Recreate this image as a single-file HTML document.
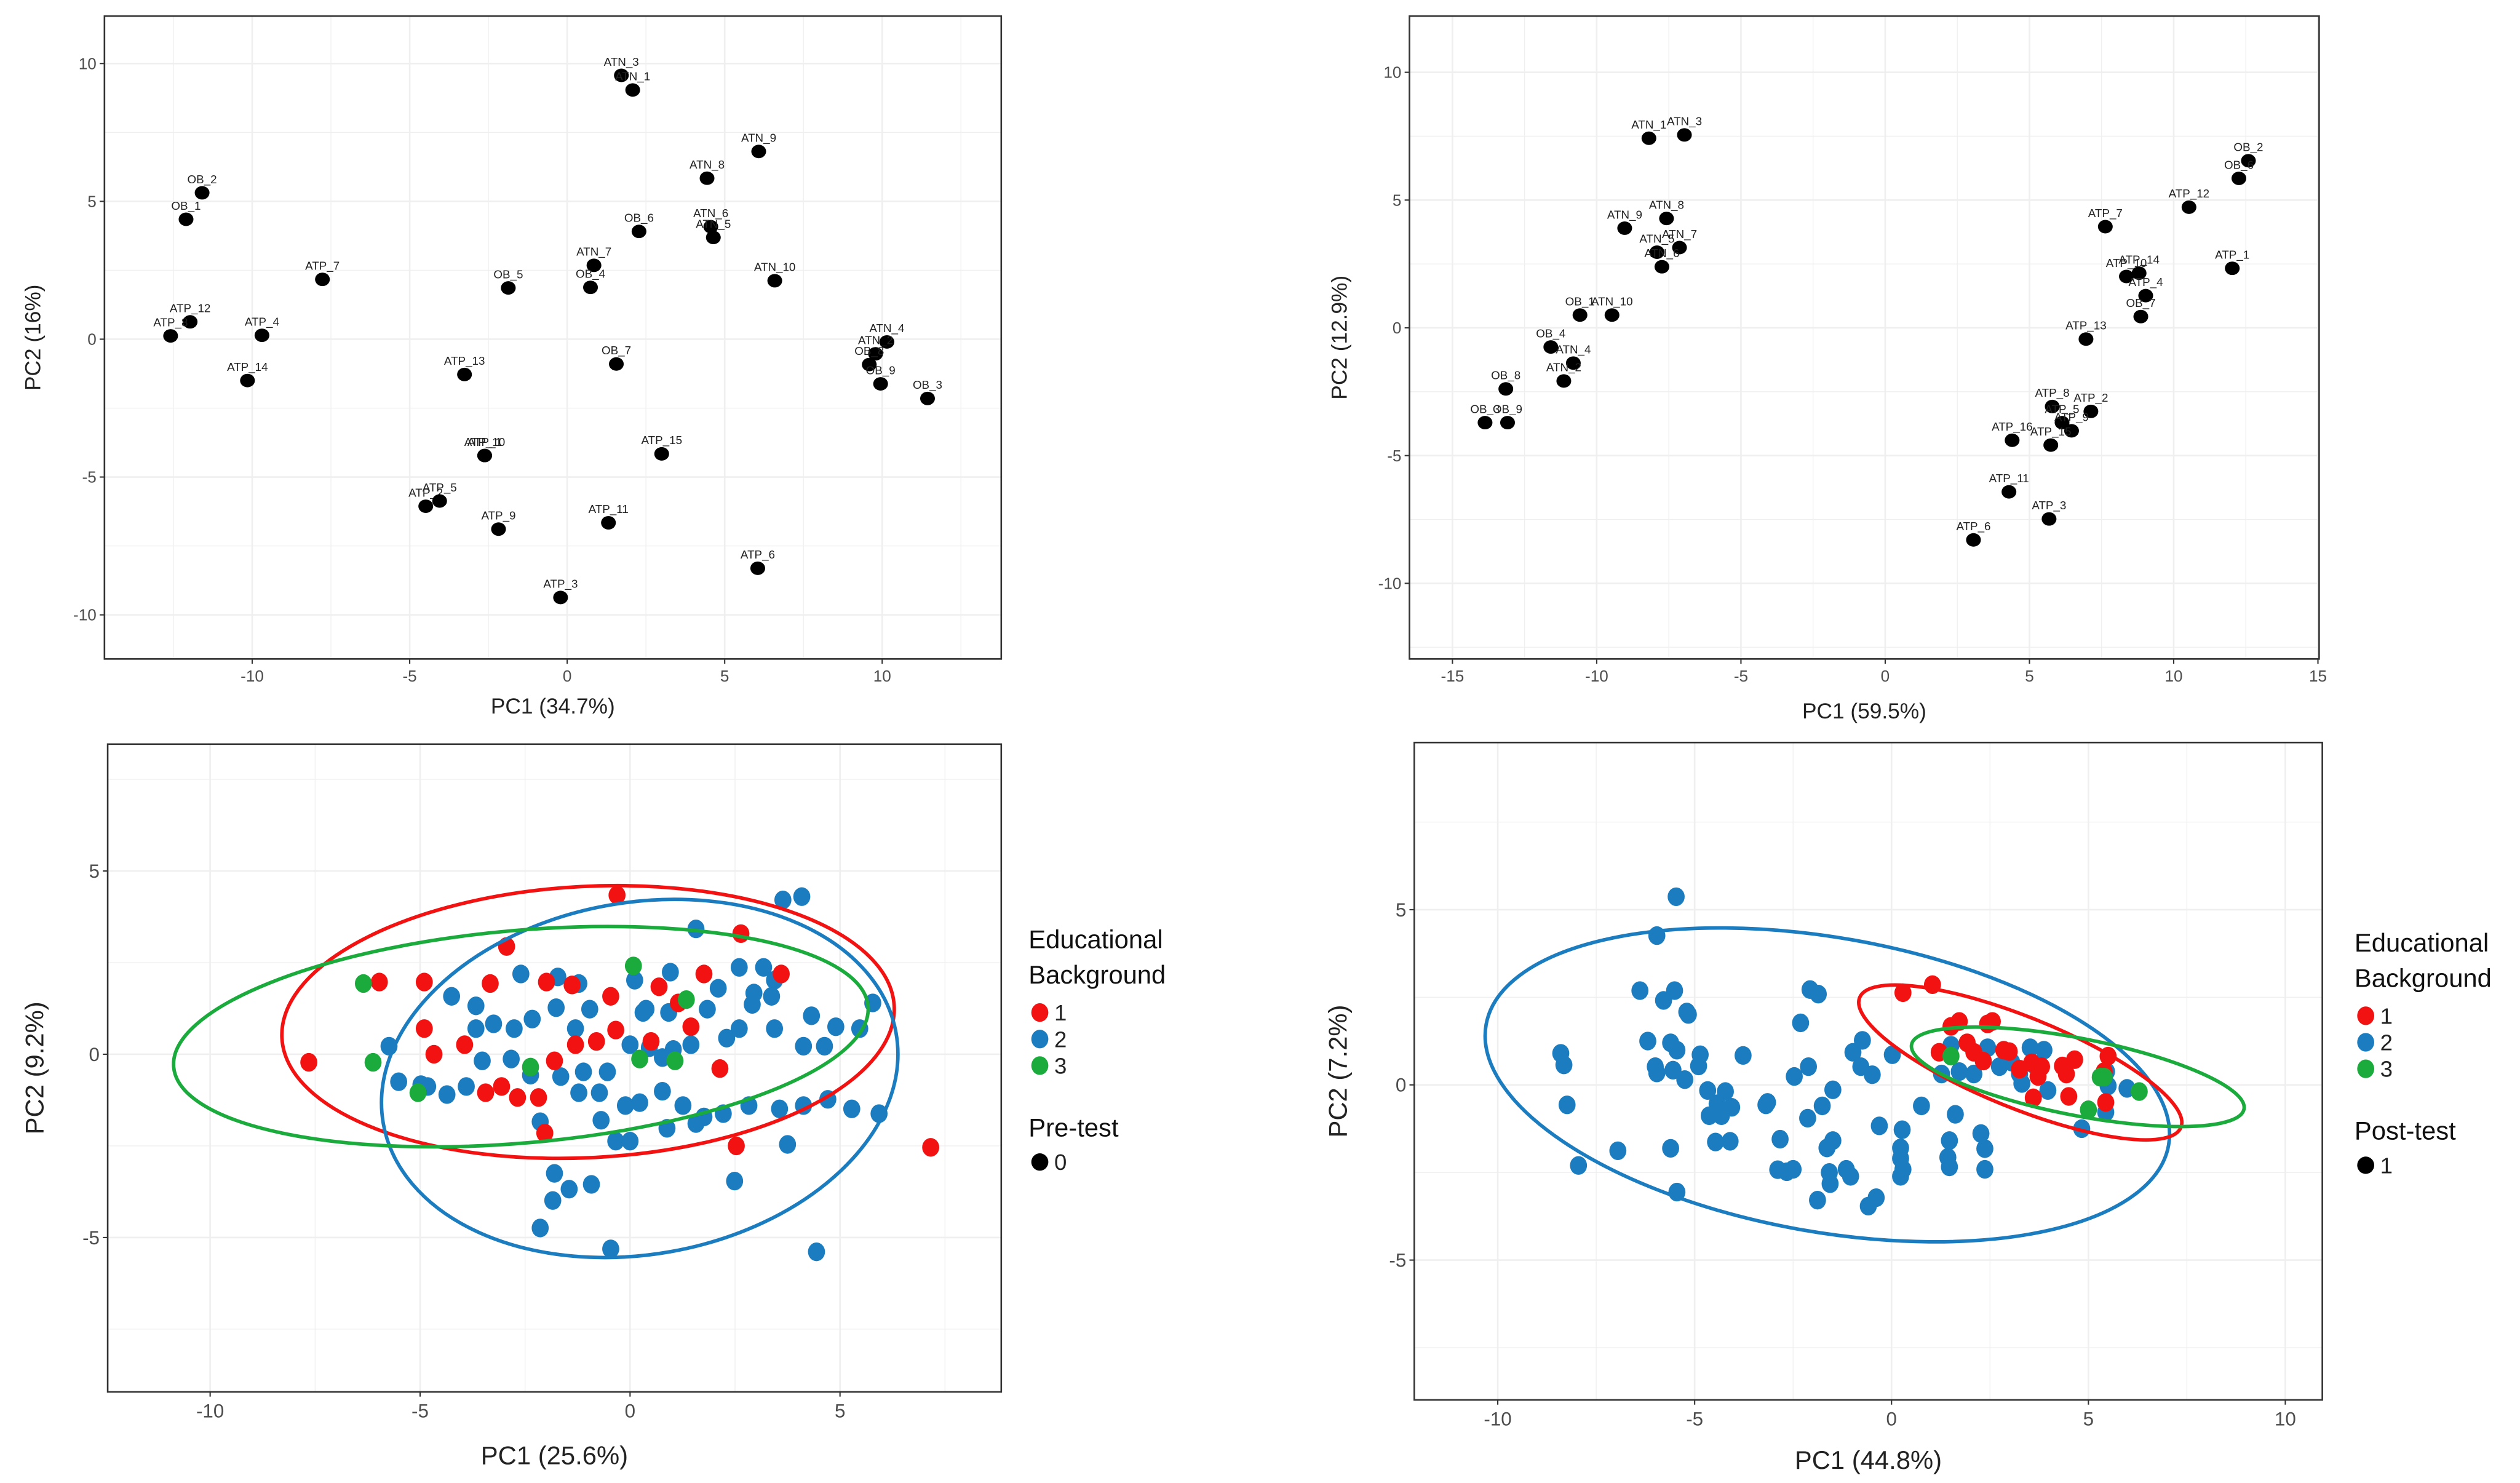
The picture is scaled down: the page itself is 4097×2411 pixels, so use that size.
<!DOCTYPE html>
<html><head><meta charset="utf-8"><style>
html,body{margin:0;padding:0;background:#fff;}
svg{display:block;font-family:"Liberation Sans",sans-serif;}
</style></head><body>
<svg id="fig" width="4097" height="2411" viewBox="0 0 1568 922.7" xmlns="http://www.w3.org/2000/svg"></svg>
<script>
// ---- Panel A (top-left) data ----
const aLabels=["ATN_3","ATN_1","ATN_9","ATN_8","OB_2","OB_1","OB_6","ATN_6","ATN_5","ATN_7","OB_4","OB_5","ATP_7","ATN_10","ATP_12","ATP_8","ATP_4","ATN_4","ATN_2","OB_8","OB_9","OB_3","ATP_14","ATP_13","OB_7","ATP_1","ATP_10","ATP_15","ATP_2","ATP_5","ATP_9","ATP_11","ATP_6","ATP_3"];
const aPC1=[1.72,2.08,6.08,4.44,-11.59,-12.1,2.28,4.56,4.64,0.85,0.74,-1.87,-7.77,6.59,-11.97,-12.59,-9.69,10.15,9.79,9.59,9.95,11.44,-10.15,-3.26,1.56,-2.62,-2.62,3.0,-4.49,-4.05,-2.18,1.31,6.05,-0.21];
const aPC2=[9.57,9.04,6.81,5.84,5.31,4.35,3.91,4.08,3.69,2.68,1.88,1.86,2.17,2.12,0.63,0.12,0.14,-0.1,-0.53,-0.92,-1.62,-2.15,-1.5,-1.28,-0.9,-4.22,-4.22,-4.16,-6.06,-5.87,-6.89,-6.66,-8.31,-9.37];
// ---- Panel B (top-right) data ----
const bLabels=["ATN_3","ATN_1","ATN_9","ATN_8","ATN_5","ATN_7","ATN_6","OB_1","ATN_10","OB_4","ATN_4","ATN_2","OB_8","OB_3","OB_9","OB_2","OB_6","ATP_12","ATP_7","ATP_1","ATP_14","ATP_10","ATP_4","OB_7","ATP_13","ATP_8","ATP_2","ATP_5","ATP_9","ATP_15","ATP_16","ATP_11","ATP_3","ATP_6"];
const bPC1=[-6.96,-8.19,-9.03,-7.58,-7.91,-7.13,-7.74,-10.58,-9.47,-11.59,-10.81,-11.14,-13.15,-13.87,-13.09,12.59,12.26,10.53,7.63,12.03,8.8,8.36,9.03,8.86,6.96,5.79,7.13,6.13,6.46,5.74,4.4,4.29,5.68,3.06];
const bPC2=[7.55,7.42,3.9,4.28,2.96,3.14,2.39,0.5,0.5,-0.75,-1.38,-2.08,-2.39,-3.71,-3.71,6.54,5.85,4.72,3.96,2.33,2.14,2.01,1.26,0.44,-0.44,-3.08,-3.27,-3.71,-4.03,-4.59,-4.4,-6.42,-7.48,-8.3];
// ---- Panel C (bottom-left, pre-test) ----
const cRedX=[-0.31,-2.94,2.64,3.6,-7.65,-4.67,-4.9,-3.33,-1.99,-1.38,-0.46,0.69,1.76,-3.94,-3.06,-2.68,-2.18,-1.8,-0.8,-0.34,-1.3,1.45,1.15,2.14,-2.03,2.53,7.16,-4.9,0.5,-5.97,-3.44];
const cRedY=[4.34,2.94,3.29,2.19,-0.22,0,1.97,1.93,1.97,1.89,1.58,1.84,2.19,0.26,-0.88,-1.18,-1.18,-0.18,0.35,0.66,0.26,0.75,1.4,-0.39,-2.15,-2.5,-2.54,0.7,0.35,1.97,-1.05];
const cBlueX=[3.64,4.09,5.78,1.57,2.6,3.18,3.44,2.1,2.95,2.91,3.37,4.32,4.9,5.47,4.63,4.13,3.44,2.6,1.84,2.3,1.45,1.03,0.46,0.77,0,-0.54,-1.11,-1.65,-2.37,-2.83,-3.52,-3.9,-4.36,-4.82,-5.74,-5.51,-4.98,-3.67,-2.76,-2.6,-1.72,-1.22,-0.96,-2.33,-1.76,-1.3,-3.25,-3.67,-4.25,0.31,0.11,0.38,0.92,0.96,0.77,0.23,-0.11,-0.73,-1.22,-0.69,0,0.88,1.26,1.76,2.22,2.83,3.56,3.75,4.13,4.71,5.28,5.93,2.49,-0.92,-1.45,-1.8,-1.84,-2.14,-0.46,4.44,1.57,-0.34,-2.14];
const cBlueY=[4.21,4.3,1.4,3.42,2.37,2.37,2.02,1.8,1.67,1.36,1.58,1.05,0.75,0.7,0.22,0.22,0.7,0.7,1.23,0.44,0.26,0.13,0.18,-0.09,0.26,-0.48,-0.48,-0.61,-0.57,-0.13,-0.18,-0.88,-1.1,-0.88,0.22,-0.75,-0.83,0.7,0.7,2.19,2.11,1.93,1.23,0.96,1.27,0.7,0.83,1.32,1.58,1.14,2.02,1.23,1.14,2.24,-1.01,-1.32,-1.4,-1.05,-1.05,-1.8,-2.37,-2.02,-1.4,-1.71,-1.62,-1.4,-1.49,-2.46,-1.4,-1.23,-1.49,-1.62,-3.46,-3.55,-3.68,-3.25,-3.99,-4.74,-5.31,-5.39,-1.89,-2.37,-1.84];
const cGreenX=[-6.35,-6.12,-5.05,0.08,1.34,-2.37,1.07,0.23];
const cGreenY=[1.93,-0.22,-1.05,2.41,1.49,-0.35,-0.18,-0.13];
// ellipses: [cx, cy, semi-axis x (data units), semi-axis y (data units), rotation deg]
const cEllRed=[-1.0,0.88,7.3,3.7,-3];
const cEllBlue=[0.23,-0.66,6.2,4.8,-10];
const cEllGreen=[-2.6,0.48,8.3,2.9,-5];
// ---- Panel D (bottom-right, post-test) ----
const dBlueX=[-5.47,-5.96,-6.39,-5.51,-5.79,-5.2,-5.16,-6.19,-5.61,-5.45,-6.0,-5.96,-5.55,-5.25,-4.86,-4.9,-8.4,-8.32,-8.24,-7.95,-6.95,-5.61,-5.45,-4.67,-4.22,-4.43,-4.63,-4.06,-4.32,-4.47,-4.1,-3.77,-3.15,-3.19,-2.83,-2.89,-2.66,-2.5,-2.31,-2.07,-1.86,-2.11,-2.47,-1.76,-2.13,-1.49,-1.64,-1.49,-1.58,-1.56,-1.88,-1.15,-1.04,-0.74,-0.98,-0.78,-0.49,-0.39,-0.59,-0.31,0.02,0.27,0.23,0.23,0.29,0.23,0.76,1.47,1.43,1.47,1.62,2.27,2.37,2.37,1.27,1.72,2.09,1.51,2.44,2.74,3.25,3.52,3.87,3.31,3.97,4.83,5.46,5.5,5.44,5.98,3.05,3.6];
const dBlueY=[5.37,4.26,2.69,2.69,2.41,2.08,2.01,1.25,1.2,0.99,0.52,0.34,0.42,0.15,0.86,0.54,0.9,0.57,-0.57,-2.3,-1.88,-1.81,-3.06,-0.16,-0.19,-0.54,-0.88,-0.64,-0.88,-1.63,-1.61,0.84,-0.5,-0.57,-1.55,-2.42,-2.48,-2.41,1.77,2.72,2.59,0.52,0.24,-0.6,-0.95,-0.14,-1.8,-1.59,-2.5,-2.82,-3.29,-2.41,-2.61,1.27,0.93,0.52,0.29,-3.22,-3.46,-1.17,0.86,-1.28,-1.8,-2.1,-2.41,-2.61,-0.6,-1.59,-2.07,-2.34,-0.84,-1.39,-1.82,-2.41,0.31,0.38,0.31,1.13,1.06,0.52,0.31,1.06,0.99,0.04,-0.16,-1.25,0.38,-0.03,-0.78,-0.1,0.65,0.59];
const dRedX=[0.29,1.04,1.51,1.72,2.44,2.56,1.21,1.92,2.09,2.33,2.85,2.99,3.25,3.56,3.72,3.81,3.6,4.34,4.65,4.44,4.5,5.5,5.4,5.44];
const dRedY=[2.63,2.86,1.67,1.81,1.74,1.81,0.93,1.2,0.93,0.68,0.99,0.95,0.45,0.63,0.24,0.52,-0.37,0.54,0.72,0.31,-0.33,0.82,0.38,-0.5];
const dGreenX=[1.51,5.3,5.4,6.29,5.0];
const dGreenY=[0.82,0.22,0.22,-0.19,-0.71];
const dEllBlue=[-1.63,0.0,8.8,4.2,10];
const dEllRed=[3.27,0.64,4.4,1.3,22];
const dEllGreen=[4.73,0.23,4.3,1.1,11];

const RED="#f21212",BLUE="#1b7dbf",GREEN="#1bab3c";
const NS="http://www.w3.org/2000/svg";
const svg=document.getElementById('fig');
function el(tag,attrs,parent){const e=document.createElementNS(NS,tag);for(const k in attrs)e.setAttribute(k,attrs[k]);(parent||svg).appendChild(e);return e;}
function txt(s,attrs,parent){const e=el('text',attrs,parent);e.textContent=s;return e;}

function panel(cfg){
  const g=el('g',{});
  
  
  const [L,T,R,B]=cfg.box;
  const sx=v=>L+(v-cfg.xd[0])/(cfg.xd[1]-cfg.xd[0])*(R-L);
  const sy=v=>B-(v-cfg.yd[0])/(cfg.yd[1]-cfg.yd[0])*(B-T);
  const xs=cfg.xt[1]-cfg.xt[0], ys=cfg.yt[1]-cfg.yt[0];
  for(let v=cfg.xt[0]-xs/2; v<=cfg.xd[1]; v+=xs/2){ if(v<cfg.xd[0])continue;
    el('line',{x1:sx(v),x2:sx(v),y1:T,y2:B,stroke:'#efefef','stroke-width':Math.abs((v-cfg.xt[0])/xs%1)>0.1?0.5:1},g);}
  for(let v=cfg.yt[0]-ys/2; v<=cfg.yd[1]; v+=ys/2){ if(v<cfg.yd[0])continue;
    el('line',{y1:sy(v),y2:sy(v),x1:L,x2:R,stroke:'#efefef','stroke-width':Math.abs((v-cfg.yt[0])/ys%1)>0.1?0.5:1},g);}
  el('rect',{x:L,y:T,width:R-L,height:B-T,fill:'none',stroke:'#333','stroke-width':1},g);
  cfg.xt.forEach(v=>{el('line',{x1:sx(v),x2:sx(v),y1:B,y2:B+3,stroke:'#333','stroke-width':0.8},g);
    const t=txt(String(v),{x:sx(v),y:B+cfg.tf+4,'font-size':cfg.tf,fill:'#4d4d4d','text-anchor':'middle'},g);
    });
  cfg.yt.forEach(v=>{el('line',{x1:L-3,x2:L,y1:sy(v),y2:sy(v),stroke:'#333','stroke-width':0.8},g);
    const t=txt(String(v),{x:L-5,y:sy(v)+cfg.tf*0.35,'font-size':cfg.tf,fill:'#4d4d4d','text-anchor':'end'},g);
    });
  const xt=txt(cfg.xlab,{x:(L+R)/2,y:cfg.xlabY,'font-size':cfg.af,fill:'#222','text-anchor':'middle'},g);
  
  const yt=txt(cfg.ylab,{x:0,y:0,'font-size':cfg.af,fill:'#222','text-anchor':'middle',transform:`translate(${cfg.ylabX},${(T+B)/2}) rotate(-90)`},g);
  
  return {g,sx,sy};
}
function labelled(p,X,Y,labels){
  X.forEach((x,i)=>{
    const c=el('ellipse',{cx:p.sx(x),cy:p.sy(Y[i]),rx:4.6,ry:4.2,fill:'#000'},p.g);
    
    
    const t=txt(labels[i],{x:p.sx(x),y:p.sy(Y[i])-6,'font-size':7.2,fill:'#222','text-anchor':'middle'},p.g);
    
    
  });
}
function dots(p,X,Y,col,nm){
  X.forEach((x,i)=>{
    const c=el('ellipse',{cx:p.sx(x),cy:p.sy(Y[i]),rx:5.3,ry:5.8,fill:col},p.g);
    
    
  });
}
function ellipse(p,E,col,nm){
  const cx=p.sx(E[0]),cy=p.sy(E[1]);
  const rx=Math.abs(p.sx(E[0]+E[2])-cx), ry=Math.abs(p.sy(E[1]+E[3])-cy);
  const e=el('ellipse',{cx:cx,cy:cy,rx:rx,ry:ry,fill:'none',stroke:col,'stroke-width':2.2,transform:`rotate(${E[4]} ${cx} ${cy})`},p.g);
  
  
}
function legend(x,y,title2){
  const g=el('g',{});
  
  
  txt('Educational',{x:x,y:y,'font-size':16,fill:'#111'},g);
  txt('Background',{x:x,y:y+22,'font-size':16,fill:'#111'},g);
  [[RED,'1'],[BLUE,'2'],[GREEN,'3']].forEach((d,i)=>{
    const yy=y+40+i*16.5;
    const c=el('ellipse',{cx:x+7,cy:yy,rx:5.3,ry:5.8,fill:d[0]},g);
    
    
    txt(d[1],{x:x+16,y:yy+5,'font-size':14,fill:'#222'},g);
  });
  txt(title2[0],{x:x,y:y+117,'font-size':16,fill:'#111'},g);
  el('ellipse',{cx:x+7,cy:y+133,rx:5.3,ry:5.4,fill:'#000'},g);
  txt(title2[1],{x:x+16,y:y+138,'font-size':14,fill:'#222'},g);
}

const pA=panel({name:'panel-a-top-left',box:[65,10,623,410],xd:[-14.69,13.78],yd:[-11.6,11.72],xt:[-10,-5,0,5,10],yt:[-10,-5,0,5,10],tf:10,af:13.5,xlab:'PC1 (34.7%)',xlabY:444,ylab:'PC2 (16%)',ylabX:25});
labelled(pA,aPC1,aPC2,aLabels);
const pB=panel({name:'panel-b-top-right',box:[877,10,1443,410],xd:[-16.49,15.04],yd:[-12.96,12.2],xt:[-15,-10,-5,0,5,10,15],yt:[-10,-5,0,5,10],tf:10,af:13.5,xlab:'PC1 (59.5%)',xlabY:447,ylab:'PC2 (12.9%)',ylabX:838});
labelled(pB,bPC1,bPC2,bLabels);
const pC=panel({name:'panel-c-bottom-left',box:[67,463,623,866],xd:[-12.44,8.84],yd:[-9.21,8.46],xt:[-10,-5,0,5],yt:[-5,0,5],tf:12,af:16,xlab:'PC1 (25.6%)',xlabY:911,ylab:'PC2 (9.2%)',ylabX:27});
dots(pC,cBlueX,cBlueY,BLUE,'pre-test-point-group-2');
dots(pC,cRedX,cRedY,RED,'pre-test-point-group-1');
dots(pC,cGreenX,cGreenY,GREEN,'pre-test-point-group-3');
ellipse(pC,cEllRed,RED,'ellipse-group-1');
ellipse(pC,cEllBlue,BLUE,'ellipse-group-2');
ellipse(pC,cEllGreen,GREEN,'ellipse-group-3');
legend(640,590,['Pre-test','0']);
const pD=panel({name:'panel-d-bottom-right',box:[880,462,1445,871],xd:[-12.12,10.94],yd:[-8.99,9.77],xt:[-10,-5,0,5,10],yt:[-5,0,5],tf:12,af:16,xlab:'PC1 (44.8%)',xlabY:914,ylab:'PC2 (7.2%)',ylabX:838});
dots(pD,dBlueX,dBlueY,BLUE,'post-test-point-group-2');
dots(pD,dRedX,dRedY,RED,'post-test-point-group-1');
dots(pD,dGreenX,dGreenY,GREEN,'post-test-point-group-3');
ellipse(pD,dEllBlue,BLUE,'ellipse-group-2');
ellipse(pD,dEllRed,RED,'ellipse-group-1');
ellipse(pD,dEllGreen,GREEN,'ellipse-group-3');
legend(1465,592,['Post-test','1']);
</script>
</body></html>
